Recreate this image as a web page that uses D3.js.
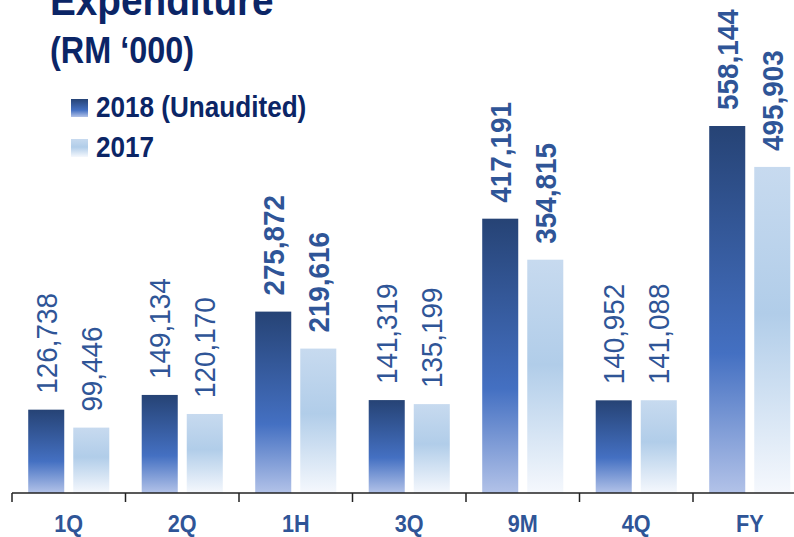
<!DOCTYPE html>
<html>
<head>
<meta charset="utf-8">
<script src="https://cdn.jsdelivr.net/npm/d3@7"></script>
<style>
  body { margin: 0; background: #fff; }
  text { font-family: "Liberation Sans", Arial, sans-serif; }
</style>
</head>
<body>
<svg id="chart" width="794" height="537"></svg>
<script>
// periods and expenditure (RM '000)
let periods = ["1Q", "2Q", "1H", "3Q", "9M", "4Q", "FY"]
let series = ["2018 (Unaudited)", "2017"]
let values2018 = [126738, 149134, 275872, 141319, 417191, 140952, 558144]
let values2017 = [99446, 120170, 219616, 135199, 354815, 141088, 495903]
let boldPeriods = ["1H", "9M", "FY"]

let svg = d3.select("#chart")
let navy = "#0b2566", blue = "#2f5597"
let base = 493

// gradients for the bars
let defs = svg.append("defs")
function grad(id, stops) {
  let g = defs.append("linearGradient")
  g.attr("id", id).attr("x1", 0).attr("y1", 0).attr("x2", 0).attr("y2", 1)
  stops.forEach(s => g.append("stop").attr("offset", s[0]).attr("stop-color", s[1]))
}
grad("g2018", [[0, "#264375"], [0.62, "#4470c2"], [1, "#b2c2e8"]])
grad("g2017", [[0, "#c7daef"], [0.45, "#b1cde9"], [1, "#f5f8fd"]])
let fills = ["url(#g2018)", "url(#g2017)"]

let x = d3.scaleBand().domain(periods).range([12, 806.5])
let xs = d3.scaleBand().domain(series).range([0, x.bandwidth()])
  .paddingInner(0.2).paddingOuter(0.36)
let y = d3.scaleLinear().domain([0, 558144]).range([base, 126])

let rows = periods.map((p, i) => ({p: p, v: [values2018[i], values2017[i]]}))

let groups = svg.selectAll("g.period")
  .data(rows).enter()
  .append("g")
  .attr("class", "period")
  .attr("transform", d => `translate(${x(d.p)},0)`)

groups.selectAll("rect")
  .data(d => d.v.map((v, k) => ({s: series[k], v: v, k: k})))
  .enter().append("rect")
  .attr("x", d => xs(d.s))
  .attr("y", d => y(d.v))
  .attr("width", xs.bandwidth())
  .attr("height", d => base - y(d.v))
  .attr("fill", d => fills[d.k])

// rotated value labels
groups.selectAll("text.val")
  .data(d => d.v.map((v, k) => ({s: series[k], v: v, bold: boldPeriods.includes(d.p)})))
  .enter().append("text")
  .attr("class", "val cond")
  .attr("data-f", 0.96)
  .attr("transform", d => `translate(${xs(d.s) + xs.bandwidth() / 2},${y(d.v) - 16}) rotate(-90)`)
  .attr("dy", "0.36em")
  .attr("font-size", 29)
  .attr("font-weight", d => d.bold ? "bold" : "normal")
  .attr("fill", blue)
  .text(d => d3.format(",")(d.v))

// axis line with boundary ticks
svg.append("line")
  .attr("x1", 12).attr("x2", 794).attr("y1", base).attr("y2", base)
  .attr("stroke", "#222").attr("stroke-width", 1.5)
svg.selectAll("line.tick")
  .data(periods).enter().append("line")
  .attr("x1", d => x(d)).attr("x2", d => x(d))
  .attr("y1", base).attr("y2", base + 9)
  .attr("stroke", "#222").attr("stroke-width", 1.5)

svg.selectAll("text.cat")
  .data(periods).enter().append("text")
  .attr("class", "cat cond")
  .attr("data-f", 0.9)
  .attr("x", d => x(d) + x.bandwidth() / 2)
  .attr("y", 532)
  .attr("text-anchor", "middle")
  .attr("font-size", 24)
  .attr("font-weight", "bold")
  .attr("fill", blue)
  .text(d => d)

// title
svg.append("text").attr("class", "cond").attr("data-f", 0.9)
  .attr("x", 50).attr("y", 15)
  .attr("font-size", 43).attr("font-weight", "bold").attr("fill", navy)
  .text("Expenditure")
svg.append("text").attr("class", "cond").attr("data-f", 0.9)
  .attr("x", 50).attr("y", 63)
  .attr("font-size", 36).attr("font-weight", "bold").attr("fill", navy)
  .text("(RM \u2018000)")

// legend
let legend = svg.selectAll("g.legend")
  .data(series).enter().append("g")
  .attr("transform", (d, i) => `translate(71,${99 + i * 40})`)
legend.append("rect")
  .attr("width", 17).attr("height", 18)
  .attr("fill", (d, i) => fills[i])
legend.append("text").attr("class", "cond").attr("data-f", 0.9)
  .attr("x", 25).attr("y", 18)
  .attr("font-size", 29).attr("font-weight", "bold").attr("fill", navy)
  .text(d => d)

// squeeze text a little to match the narrow face of the original
svg.selectAll("text.cond").each(function () {
  let f = +this.getAttribute("data-f")
  let len = this.getComputedTextLength()
  d3.select(this).attr("textLength", len * f).attr("lengthAdjust", "spacingAndGlyphs")
})
</script>
</body>
</html>
